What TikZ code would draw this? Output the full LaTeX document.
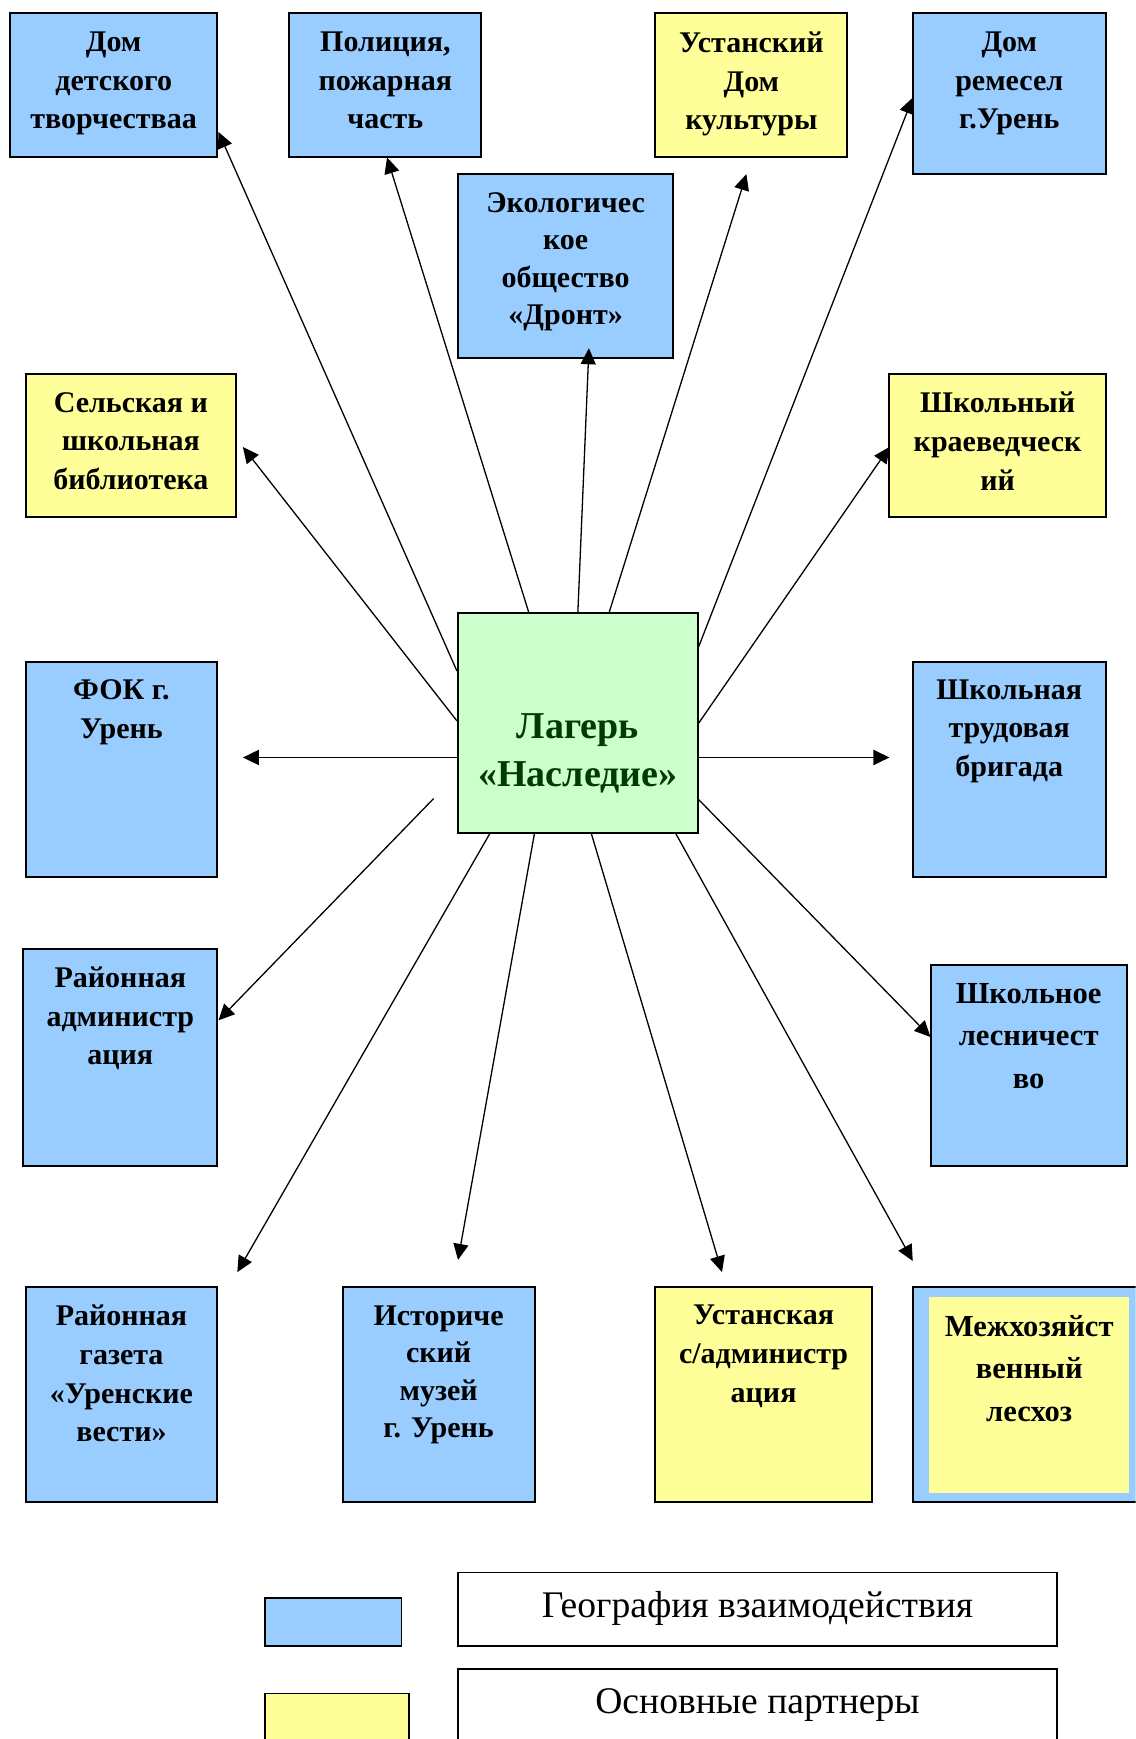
\documentclass[tikz,border=0pt]{standalone}
\usepackage{fontspec}
\setmainfont{Liberation Serif}
\usetikzlibrary{fit,arrows.meta}
\definecolor{pblue}{RGB}{153,204,255}
\definecolor{pyellow}{RGB}{255,255,153}
\definecolor{pgreen}{RGB}{204,255,204}
\definecolor{dgreen}{RGB}{0,60,0}
\begin{document}
\begin{tikzpicture}[x=0.5547pt,y=-0.5547pt,
  bbox/.style={draw=black, line width=1pt, inner sep=0pt},
  bluebox/.style={bbox, fill=pblue},
  yellowbox/.style={bbox, fill=pyellow},
  lbl/.style={font=\fontsize{15}{19.4}\selectfont\bfseries, align=center, inner sep=0pt, anchor=north},
  lbltight/.style={lbl, font=\fontsize{15}{18.7}\selectfont\bfseries},
  lblwide/.style={lbl, font=\fontsize{15.3}{21.2}\selectfont\bfseries},
  arr/.style={line width=0.65pt, -{Triangle[length=8pt,width=7.5pt]}},
  harr/.style={line width=0.95pt, -{Triangle[length=8pt,width=7.5pt]}},
  legbox/.style={draw=black, line width=0.8pt, inner sep=0pt},
  legtxt/.style={font=\fontsize{18.8}{21}\selectfont, inner sep=0pt},
]
\useasboundingbox (0,0) rectangle (1024,1568);
\clip (0,0) rectangle (1024,1568);

% boxes
\node[bluebox, fit={(9,12) (196,142)}] (b1) {};
\node[lbl] (t1) at ([yshift=-9.5pt]b1.north) {Дом\\детского\\творчестваа};
\node[bluebox, fit={(261,12) (434,142)}] (b2) {};
\node[lbl] (t2) at ([yshift=-9.5pt]b2.north) {Полиция,\\пожарная\\часть};
\node[bluebox, fit={(413,157) (607,323)}] (b3) {};
\node[lbltight] (t3) at ([yshift=-9.5pt]b3.north) {Экологичес\\кое\\общество\\«Дронт»};
\node[yellowbox, fit={(591,12) (764,142)}] (b4) {};
\node[lbl] (t4) at ([yshift=-9.5pt]b4.north) {Устанский\\Дом\\культуры};
\node[bluebox, fit={(823,12) (997,157)}] (b5) {};
\node[lbl] (t5) at ([yshift=-9.5pt]b5.north) {Дом\\ремесел\\г.Урень};
\node[yellowbox, fit={(23,337) (213,466)}] (b6) {};
\node[lbl] (t6) at ([yshift=-9.5pt]b6.north) {Сельская и\\школьная\\библиотека};
\node[yellowbox, fit={(802,337) (997,466)}] (b7) {};
\node[lbl] (t7) at ([yshift=-9.5pt]b7.north) {Школьный\\краеведческ\\ий};
\node[bluebox, fit={(23,597) (196,791)}] (b8) {};
\node[lbl] (t8) at ([yshift=-9pt]b8.north) {ФОК г.\\Урень};
\node[bluebox, fit={(823,597) (997,791)}] (b9) {};
\node[lbl] (t9) at ([yshift=-9pt]b9.north) {Школьная\\трудовая\\бригада};
\node[bluebox, fit={(21,856) (196,1051)}] (b10) {};
\node[lbl] (t10) at ([yshift=-9pt]b10.north) {Районная\\администр\\ация};
\node[bluebox, fit={(839,870) (1016,1051)}] (b11) {};
\node[lblwide] (t11) at ([yshift=-9.5pt]b11.north) {Школьное\\лесничест\\во};
\node[bluebox, fit={(23,1160) (196,1354)}] (b12) {};
\node[lbl] (t12) at ([yshift=-9.5pt]b12.north) {Районная\\газета\\«Уренские\\вести»};
\node[bluebox, fit={(309,1160) (482,1354)}] (b13) {};
\node[lbltight] (t13) at ([yshift=-10pt]b13.north) {Историче\\ский\\музей\\г. Урень};
\node[yellowbox, fit={(591,1160) (786,1354)}] (b14) {};
\node[lbl] (t14) at ([yshift=-9.5pt]b14.north) {Устанская\\с/администр\\ация};
\node[bluebox, fit={(823,1160) (1030,1354)}] (b15) {};
\node[fill=pyellow, inner sep=0pt, fit={(838,1169) (1018,1346)}] (b15i) {};
\node[lblwide] (t15) at ([yshift=-9.5pt]b15i.north) {Межхозяйст\\венный\\лесхоз};

% centre
\node[bbox, fill=pgreen, fit={(413,553) (629,751)}] (c) {};
\node[font=\fontsize{19}{23.9}\selectfont\bfseries, text=dgreen, align=center, inner sep=0pt] (ct) at (521,679) {Лагерь\\«Наследие»};

% connector end points
\coordinate (s1) at (412,605);  \coordinate (e1) at (197,119);
\coordinate (s2) at (477,553);  \coordinate (e2) at (349,142);
\coordinate (s3) at (521,553);  \coordinate (e3) at (531,314);
\coordinate (s4) at (549,553);  \coordinate (e4) at (673,157);
\coordinate (s5) at (630,583);  \coordinate (e5) at (823,88);
\coordinate (s6) at (412,650);  \coordinate (e6) at (219,403);
\coordinate (s7) at (630,652);  \coordinate (e7) at (802,403);
\coordinate (s8) at (413,683);  \coordinate (e8) at (219,683);
\coordinate (s9) at (629,683);  \coordinate (e9) at (802,683);
\coordinate (s10) at (391,720); \coordinate (e10) at (197,920);
\coordinate (s11) at (442,751); \coordinate (e11) at (214,1147);
\coordinate (s12) at (482,751); \coordinate (e12) at (413,1136);
\coordinate (s13) at (533,751); \coordinate (e13) at (651,1147);
\coordinate (s14) at (609,751); \coordinate (e14) at (823,1137);
\coordinate (s15) at (630,721); \coordinate (e15) at (839,935);

\draw[arr] (s1) -- (e1);
\draw[arr] (s2) -- (e2);
\draw[arr] (s3) -- (e3);
\draw[arr] (s4) -- (e4);
\draw[arr] (s5) -- (e5);
\draw[arr] (s6) -- (e6);
\draw[arr] (s7) -- (e7);
\draw[harr] (s8) -- (e8);
\draw[harr] (s9) -- (e9);
\draw[arr] (s10) -- (e10);
\draw[arr] (s11) -- (e11);
\draw[arr] (s12) -- (e12);
\draw[arr] (s13) -- (e13);
\draw[arr] (s14) -- (e14);
\draw[arr] (s15) -- (e15);

% legend
\node[legbox, fill=pblue, fit={(239,1441) (362,1484)}] (lg1) {};
\node[legbox, fill=pyellow, fit={(239,1527) (369,1590)}] (lg2) {};
\node[legbox, fit={(413,1418) (953,1484)}] (lt1) {};
\node[legtxt] (lt1t) at (683,1450) {География взаимодействия};
\node[legbox, fit={(413,1505) (953,1590)}] (lt2) {};
\node[legtxt] (lt2t) at (683,1537) {Основные партнеры};
\end{tikzpicture}
\end{document}
